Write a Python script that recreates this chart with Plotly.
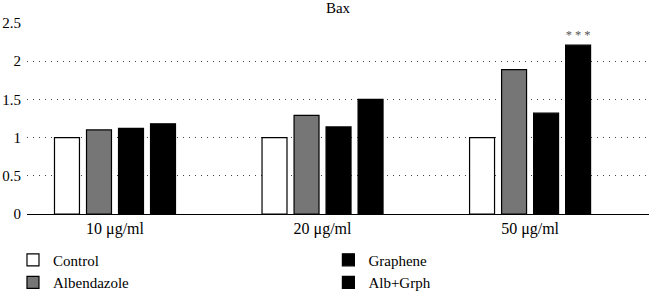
import plotly.graph_objects as go

categories = ["10 μg/ml", "20 μg/ml", "50 μg/ml"]
control = [1.0, 1.0, 1.0]
albendazole = [1.10, 1.29, 1.89]
graphene = [1.12, 1.14, 1.32]
alb_grph = [1.18, 1.50, 2.21]
alb_grph_sig = ["", "", "* * *"]
y_ticks = [0, 0.5, 1, 1.5, 2, 2.5]
y_tick_text = ["0", "0.5", "1", "1.5", "2", "2.5"]

FONT = "Liberation Serif"
line = dict(color="black", width=1.2)

fig = go.Figure()
fig.add_trace(go.Bar(name="Control", x=categories, y=control,
                     marker=dict(color="white", line=line), legend="legend"))
fig.add_trace(go.Bar(name="Albendazole", x=categories, y=albendazole,
                     marker=dict(color="#767676", line=line), legend="legend"))
fig.add_trace(go.Bar(name="Graphene", x=categories, y=graphene,
                     marker=dict(color="black", line=line), legend="legend2"))
fig.add_trace(go.Bar(name="Alb+Grph", x=categories, y=alb_grph,
                     marker=dict(color="black", line=line), legend="legend2",
                     text=alb_grph_sig, textposition="outside",
                     textfont=dict(family=FONT, size=17, color="#555555"),
                     cliponaxis=False))

fig.update_layout(
    width=649, height=292,
    margin=dict(l=27, r=0, t=23, b=78, autoexpand=False),
    paper_bgcolor="white", plot_bgcolor="white",
    font=dict(family=FONT, size=15, color="black"),
    title=dict(text="Bax", x=0.5, xref="paper", y=0.974, yanchor="middle",
               font=dict(family=FONT, size=15, color="black")),
    barmode="group", bargap=0.383, bargroupgap=0.22,
    showlegend=True,
    legend=dict(x=0.02, y=0.166, xref="container", yref="container",
                xanchor="left", yanchor="top",
                bgcolor="rgba(0,0,0,0)", font=dict(family=FONT, size=15),
                tracegroupgap=0),
    legend2=dict(x=0.506, y=0.166, xref="container", yref="container",
                 xanchor="left", yanchor="top",
                 bgcolor="rgba(0,0,0,0)", font=dict(family=FONT, size=15),
                 tracegroupgap=0),
    xaxis=dict(range=[-0.424, 2.573], showline=True, linecolor="black",
               linewidth=1.2, ticks="", showgrid=False, automargin=False,
               tickfont=dict(family=FONT, size=16)),
    yaxis=dict(range=[0, 2.5], tickvals=y_ticks, ticktext=y_tick_text,
               showgrid=True, gridcolor="#444444", griddash="1px,5px", gridwidth=1,
               zeroline=False, showline=False, ticks="", automargin=False,
               ticklabelstandoff=5,
               tickfont=dict(family=FONT, size=15)),
)

fig.write_html("out.html", config={"displayModeBar": False},
               post_script="document.body.style.margin='0';document.body.style.padding='0';")
